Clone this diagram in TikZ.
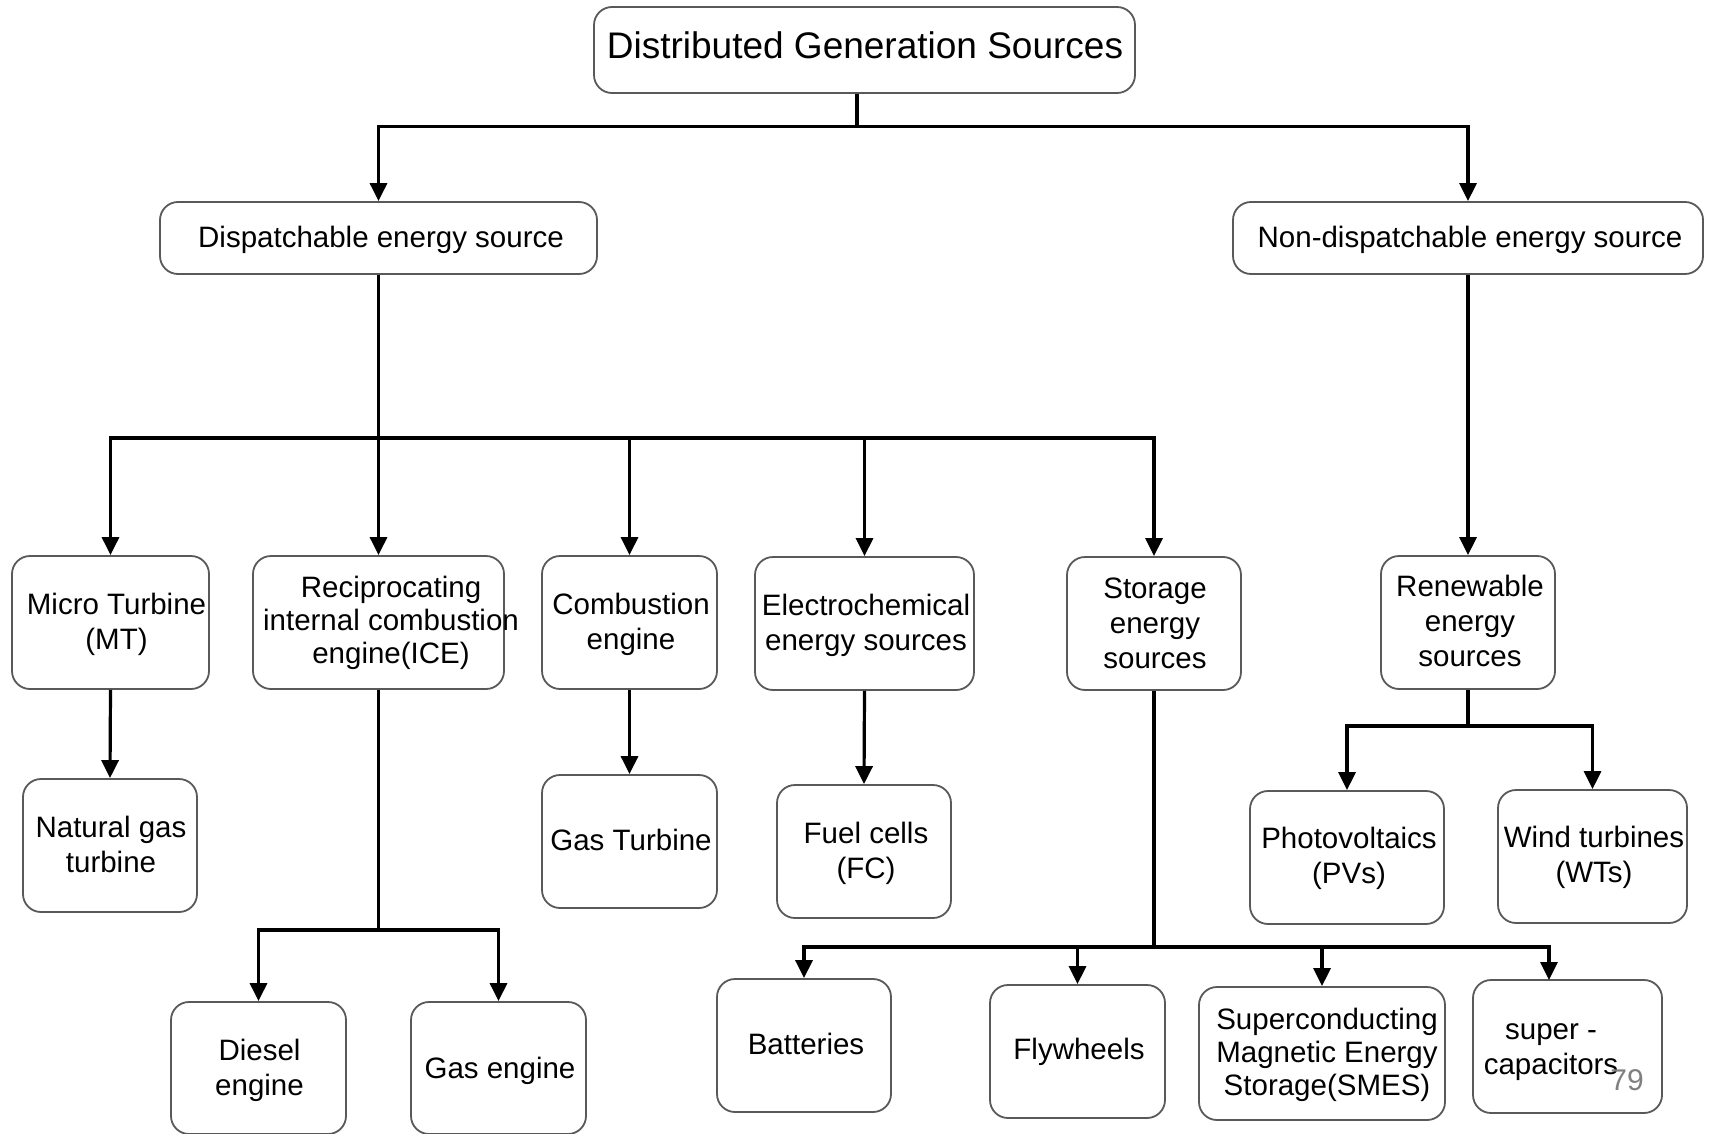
\documentclass[tikz,border=0pt]{standalone}
\usepackage{fontspec}
\setmainfont{Liberation Sans}
\usetikzlibrary{arrows.meta}
\begin{document}
\begin{tikzpicture}[x=1pt,y=-1pt,
  box/.style={draw=black!65, line width=1.8pt, rounded corners=18pt, fill=white,
    align=center, inner sep=0pt, font=\fontsize{29.5}{35}\selectfont},
  txt/.style={align=center, inner sep=0pt, font=\fontsize{29.5}{35}\selectfont},
  tight/.style={font=\fontsize{29.5}{33}\selectfont},
  link/.style={line width=3.2pt, black},
  arr/.style={link, -{Triangle[length=18pt,width=17pt]}},
]
\useasboundingbox (0,0) rectangle (1710,1134);

% top of the hierarchy
\node[box, minimum width=541pt, minimum height=86pt] (dgs) at (864.5,50) {};
\node[txt, font=\fontsize{37}{42}\selectfont] (dgst) at (865,45) {Distributed Generation Sources};

% second level
\node[box, minimum width=437pt, minimum height=72pt] (disp) at (378.5,238) {};
\node[txt] (dispt) at (381,239.5) {Dispatchable energy source};
\node[box, minimum width=470pt, minimum height=72pt] (ndisp) at (1468,238) {};
\node[txt] (ndispt) at (1470,239.5) {Non-dispatchable energy source};

% third level
\node[box, minimum width=197pt, minimum height=133pt] (mt) at (110.5,622.5) {};
\node[txt] (mtt) at (116.5,624.5) {Micro Turbine\\(MT)};
\node[box, minimum width=251pt, minimum height=133pt] (ice) at (378.5,622.5) {};
\node[txt, tight] (icet) at (391,623) {Reciprocating\\internal combustion\\engine(ICE)};
\node[box, minimum width=175pt, minimum height=133pt] (ce) at (629.5,622.5) {};
\node[txt] (cet) at (631,624.5) {Combustion\\engine};
\node[box, minimum width=219pt, minimum height=133pt] (ec) at (864.5,623.5) {};
\node[txt] (ect) at (866,625) {Electrochemical\\energy sources};
\node[box, minimum width=174pt, minimum height=133pt] (se) at (1154,623.5) {};
\node[txt] (set) at (1155,623.5) {Storage\\energy\\sources};
\node[box, minimum width=174pt, minimum height=133pt] (re) at (1468,622.5) {};
\node[txt] (ret) at (1470,620.5) {Renewable\\energy\\sources};

% fourth level
\node[box, minimum width=174pt, minimum height=133pt] (ng) at (110,845.5) {};
\node[txt] (ngt) at (111,844.5) {Natural gas\\turbine};
\node[box, minimum width=175pt, minimum height=133pt] (gt) at (629.5,841.5) {};
\node[txt] (gtt) at (631,839.5) {Gas Turbine};
\node[box, minimum width=174pt, minimum height=133pt] (fc) at (864,851.5) {};
\node[txt] (fct) at (866,853.5) {Fuel cells\\(FC)};
\node[box, minimum width=194pt, minimum height=133pt] (pv) at (1347,857.5) {};
\node[txt] (pvt) at (1349,858.5) {Photovoltaics\\(PVs)};
\node[box, minimum width=189pt, minimum height=133pt] (wt) at (1592.5,856.5) {};
\node[txt] (wtt) at (1594,857.5) {Wind turbines\\(WTs)};

% bottom level
\node[box, minimum width=175pt, minimum height=132pt] (de) at (258.5,1068) {};
\node[txt] (det) at (259.5,1070) {Diesel\\engine};
\node[box, minimum width=175pt, minimum height=132pt] (ge) at (498.5,1068) {};
\node[txt] (get) at (500,1071) {Gas engine};
\node[box, minimum width=174pt, minimum height=133pt] (ba) at (804,1045.5) {};
\node[txt] (bat) at (806,1043.5) {Batteries};
\node[box, minimum width=175pt, minimum height=133pt] (fw) at (1077.5,1051.5) {};
\node[txt] (fwt) at (1079,1052) {Flywheels};
\node[box, minimum width=246pt, minimum height=133pt] (sm) at (1322,1053.5) {};
\node[txt, tight] (smt) at (1327,1055) {Superconducting\\Magnetic Energy\\Storage(SMES)};
\node[box, minimum width=189pt, minimum height=133pt] (sc) at (1567.5,1046.5) {};
\node[txt] (sct) at (1551,1052) {super -\\capacitors};

% page number
\node[text=black!50, font=\fontsize{30}{34}\selectfont, inner sep=0pt] (pg) at (1627,1080) {79};

% junction points of the connectors
\coordinate (j0) at (857,126.5);
\coordinate (j1) at (378.5,438);
\coordinate (j2) at (1468,726);
\coordinate (j3) at (1154,947);
\coordinate (j4) at (378.5,930);
\coordinate (scin) at (1549,980);

% connectors
\draw[link] (dgs.south -| j0) -- (j0);
\draw[arr] (j0) -| (disp.north);
\draw[arr] (j0) -| (ndisp.north);

\draw[link] (disp.south) -- (j1);
\draw[arr] (j1) -| (mt.north);
\draw[arr] (j1) -- (ice.north);
\draw[arr] (j1) -| (ce.north);
\draw[arr] (j1) -| (ec.north);
\draw[arr] (j1) -| (se.north);

\draw[arr] (ndisp.south) -- (re.north);

\draw[arr] (mt.south) -- (ng.north);
\draw[arr] (ce.south) -- (gt.north);
\draw[arr] (ec.south) -- (fc.north);

\draw[link] (re.south) -- (j2);
\draw[arr] (j2) -| (pv.north);
\draw[arr] (j2) -| (wt.north);

\draw[link] (ice.south) -- (j4);
\draw[arr] (j4) -| (de.north);
\draw[arr] (j4) -| (ge.north);

\draw[link] (se.south) -- (j3);
\draw[arr] (j3) -| (ba.north);
\draw[arr] (j3) -| (fw.north);
\draw[arr] (j3) -| (sm.north);
\draw[arr] (j3) -| (scin);
\end{tikzpicture}
\end{document}
